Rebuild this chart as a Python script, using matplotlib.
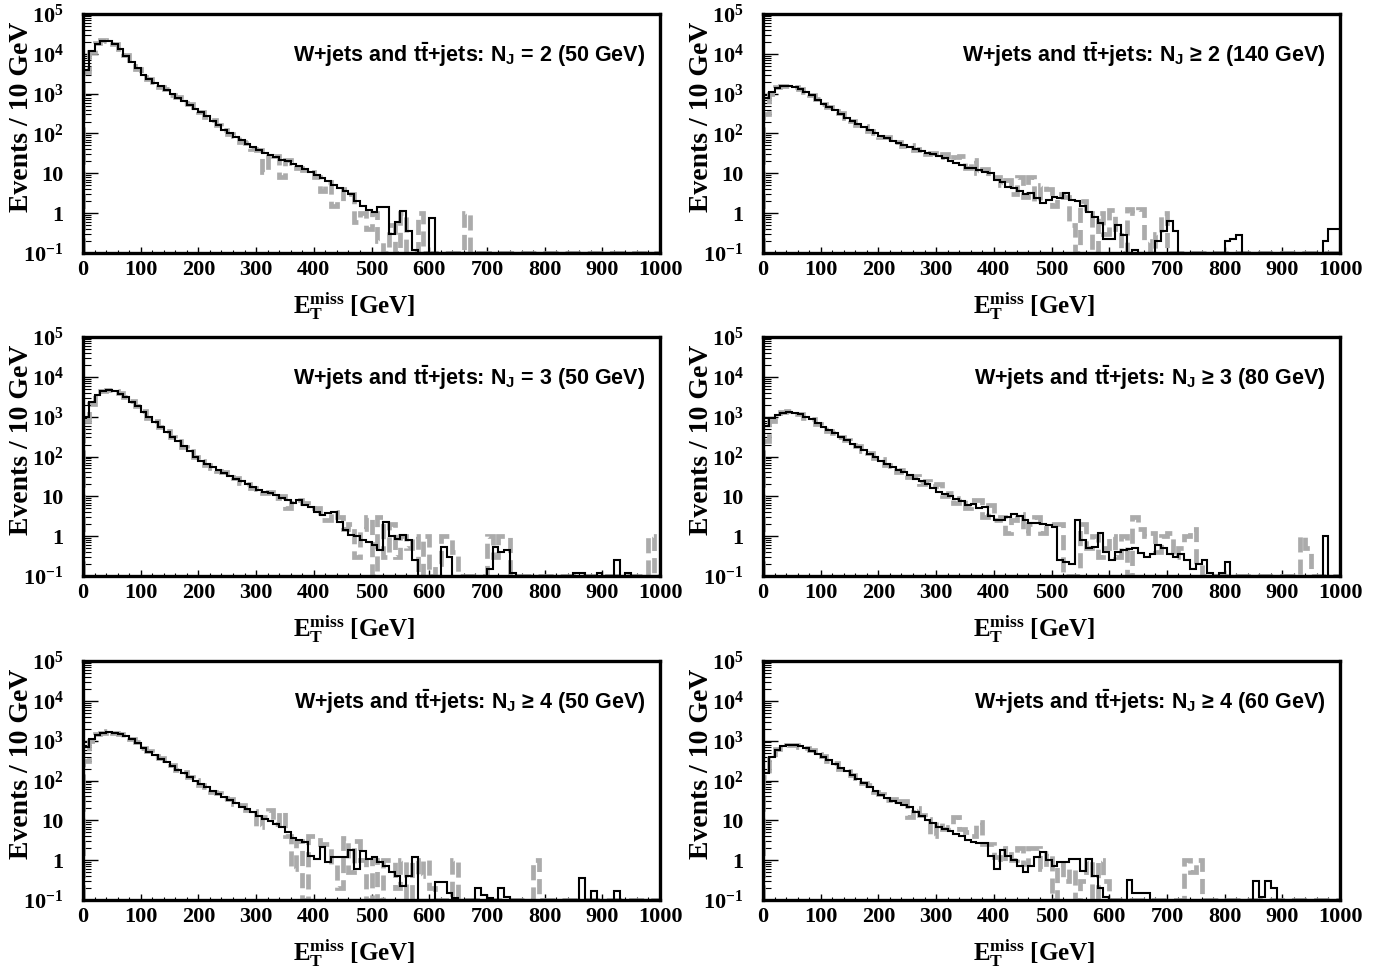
import numpy as np
import matplotlib
matplotlib.use("Agg")
import matplotlib.pyplot as plt
from matplotlib.ticker import FixedLocator, MultipleLocator, FuncFormatter

plt.rcParams['mathtext.fontset'] = 'custom'
plt.rcParams['mathtext.rm'] = 'Liberation Serif:bold'
plt.rcParams['mathtext.it'] = 'Liberation Serif:bold'
plt.rcParams['mathtext.bf'] = 'Liberation Sans:bold'

# 10 GeV bins from 0 to 1000 GeV, events per bin (0 = empty bin)
bin_edges = np.arange(0, 1010, 10)

solid_nj2_50 = [
    4000, 12000, 18000, 21000, 21000, 18000, 13000, 9000, 6200, 4300,
    3000, 2400, 1900, 1550, 1250, 1000, 800, 640, 520, 420,
    340, 270, 210, 165, 125, 100, 82, 68, 56, 46,
    38, 33, 29, 25, 22, 20, 17, 15, 13, 11,
    9, 7.5, 6.5, 5, 4.2, 3.5, 3, 2, 1.5, 1.2,
    1.05, 1.4, 1.4, 0.3, 0.6, 1.15, 0.35, 0.12, 0, 0,
    0.75, 0, 0, 0, 0, 0, 0, 0, 0, 0,
    0, 0, 0, 0, 0, 0, 0, 0, 0, 0,
    0, 0, 0, 0, 0, 0, 0, 0, 0, 0,
    0, 0, 0, 0, 0, 0, 0, 0, 0, 0,
]
dashed_nj2_50 = [
    3500, 11000, 19000, 22000, 21000, 17500, 13500, 9500, 6000, 4200,
    3100, 2300, 1950, 1500, 1300, 950, 820, 600, 540, 400,
    350, 260, 215, 160, 120, 95, 85, 60, 58, 40,
    38, 11, 30, 27, 8, 22, 18, 14, 12, 11,
    8, 3.5, 6, 1.5, 2, 4, 3, 0.6, 1, 0.4,
    1, 0.2, 0, 0.5, 0, 1, 0, 0, 1, 0,
    0, 0, 0, 0, 0, 0, 1, 0, 0, 0,
    0, 0, 0, 0, 0, 0, 0, 0, 0, 0,
    0, 0, 0, 0, 0, 0, 0, 0, 0, 0,
    0, 0, 0, 0, 0, 0, 0, 0, 0, 0,
]

solid_nj2_140 = [
    800, 1100, 1400, 1550, 1600, 1500, 1300, 1100, 900, 700,
    560, 460, 380, 310, 250, 205, 170, 145, 120, 100,
    85, 75, 66, 58, 51, 45, 41, 37, 33, 30,
    27, 24, 20, 18, 16, 14, 14, 12, 11, 10,
    7, 6, 4.5, 4.2, 3.5, 3, 3.2, 2.4, 1.8, 2.2,
    2.6, 2.4, 3.3, 2.2, 2.0, 1.5, 1.1, 0.8, 0.58, 0.23,
    0.23, 0.5, 0.28, 0.1, 0.12, 0, 0, 0, 0.2, 0.35,
    0.65, 0.35, 0, 0, 0, 0, 0, 0, 0, 0,
    0.2, 0.22, 0.28, 0, 0, 0, 0, 0, 0, 0,
    0, 0, 0, 0, 0, 0, 0, 0.2, 0.4, 0.4,
]
dashed_nj2_140 = [
    300, 1000, 1450, 1600, 1550, 1450, 1300, 1100, 950, 720,
    560, 470, 370, 320, 240, 210, 165, 150, 115, 105,
    80, 80, 62, 62, 48, 52, 38, 40, 30, 32,
    25, 30, 22, 25, 28, 14, 22, 10, 13, 8,
    8, 5, 7, 3, 8, 2.5, 8, 2, 5, 4,
    1.5, 3, 2.5, 0.5, 0, 2, 1, 0, 1, 0.3,
    1.2, 0.4, 0, 1.3, 1, 1.3, 0.2, 0, 0.3, 1,
    0, 0, 0, 0, 0, 0, 0, 0, 0, 0,
    0, 0, 0, 0, 0, 0, 0, 0, 0, 0,
    0, 0, 0, 0, 0, 0, 0, 0, 0, 0,
]

solid_nj3_50 = [
    1000, 2300, 3500, 4300, 4600, 4400, 3800, 3100, 2400, 1800,
    1300, 980, 740, 560, 420, 315, 240, 180, 135, 100,
    76, 64, 55, 46, 39, 33, 28, 24, 20, 17,
    14.7, 13, 12, 10.5, 9, 8, 7, 8, 6, 5.5,
    4.1, 3.4, 3.8, 4.0, 2.3, 1.4, 1.05, 1.0, 0.8, 0.7,
    0.6, 0.45, 2.3, 1.0, 0.85, 1.05, 0.8, 0.25, 0.1, 0,
    0, 0, 0.55, 0.3, 0, 0, 0, 0, 0, 0,
    0.15, 0.55, 0.4, 0.45, 0.12, 0, 0, 0, 0, 0,
    0, 0, 0, 0, 0, 0.12, 0.12, 0, 0, 0.12,
    0, 0, 0.25, 0, 0.12, 0, 0, 0, 0, 0,
]
dashed_nj3_50 = [
    800, 2100, 3600, 4400, 4700, 4400, 3900, 3200, 2500, 1800,
    1350, 950, 760, 540, 430, 300, 250, 175, 140, 95,
    78, 60, 52, 44, 40, 30, 29, 22, 20, 16,
    15, 12, 13, 9, 10, 5, 8, 8, 7, 6,
    5, 2.5, 2.5, 4, 3, 1.5, 2, 0.3, 1.5, 3,
    0.1, 3, 0.3, 2, 0.3, 1, 0.5, 1, 0, 1,
    0, 0.2, 1, 1, 0.4, 0, 0, 0, 0, 0,
    1, 0.3, 1, 1, 0, 0, 0, 0, 0, 0,
    0, 0, 0, 0, 0, 0, 0, 0, 0, 0,
    0, 0, 0, 0, 0, 0, 0, 0, 1, 0,
]

solid_nj3_80 = [
    600, 900, 1100, 1250, 1300, 1250, 1150, 1000, 850, 700,
    560, 460, 380, 310, 255, 210, 172, 142, 117, 96,
    79, 66, 56, 47, 40, 34, 28, 24, 20, 16,
    13, 11.5, 10, 8.5, 7.5, 6, 6.5, 5, 5.5, 3.3,
    2.5, 2.5, 3, 3.6, 3.2, 2.5, 2.2, 2.2, 2.0, 1.9,
    1.7, 0.25, 0.22, 0.2, 2.5, 0.8, 0.5, 0.55, 1.2, 0.4,
    0.25, 0.4, 0.45, 0.48, 0.5, 0.38, 0.3, 0.35, 0.6, 0.5,
    0.35, 0.3, 0.35, 0.25, 0.15, 0.2, 0.25, 0.12, 0.1, 0.12,
    0.22, 0.1, 0, 0, 0, 0, 0, 0, 0, 0,
    0, 0, 0, 0, 0, 0, 0, 1.0, 0, 0,
]
dashed_nj3_80 = [
    250, 800, 1050, 1300, 1350, 1200, 1150, 950, 880, 650,
    570, 440, 390, 300, 260, 200, 180, 135, 120, 90,
    85, 60, 58, 42, 45, 30, 32, 20, 24, 18,
    20, 10, 12, 7, 9, 5, 8, 8, 3, 6,
    2.5, 3, 1.2, 2.5, 3.5, 1.2, 2, 3, 1.2, 2,
    2, 2, 0.1, 0.1, 0, 2, 0.5, 1, 0.3, 0.5,
    1, 0.3, 1, 0, 3, 1.5, 1, 1.2, 0.4, 1,
    1.2, 0.3, 0.5, 1, 1.5, 0.2, 0, 0, 0, 0,
    0, 0, 0, 0, 0, 0, 0, 0, 0, 0,
    0, 0, 0, 1, 0.5, 0, 0, 0, 0, 0,
]

solid_nj4_50 = [
    700, 1100, 1400, 1550, 1650, 1600, 1450, 1300, 1100, 850,
    650, 530, 430, 350, 285, 230, 188, 153, 125, 100,
    80, 67, 55, 46, 38, 32, 27, 22, 19, 16,
    13, 11, 9.5, 8, 7, 5.1, 3.7, 3.2, 2.9, 1.3,
    1.1, 2.2, 0.9, 1.2, 1.2, 1.2, 1.8, 0.6, 1.7, 1.1,
    1.2, 0.9, 0.7, 0.5, 0.4, 0.22, 0.4, 1.2, 0.1, 0.1,
    0.1, 0.28, 0.28, 0.15, 0.11, 0, 0, 0, 0.2, 0.13,
    0.11, 0, 0.2, 0.12, 0, 0, 0, 0, 0, 0,
    0, 0, 0, 0, 0, 0, 0.35, 0, 0.17, 0,
    0, 0, 0.17, 0, 0, 0, 0, 0, 0, 0,
]
dashed_nj4_50 = [
    300, 1000, 1450, 1600, 1700, 1550, 1500, 1250, 1100, 900,
    640, 540, 420, 360, 280, 240, 185, 160, 120, 105,
    78, 70, 52, 48, 36, 34, 25, 24, 18, 17,
    7, 12, 18, 8, 16, 4, 0.6, 3, 0.1, 4,
    4, 2.5, 2.5, 0.8, 0.2, 3.5, 0.5, 3, 1, 0.1,
    1, 0.1, 1, 1, 0.2, 1, 0.1, 1, 0.4, 1,
    0.2, 0, 0, 0, 1, 0, 0, 0, 0, 0,
    0, 0, 0, 0, 0, 0, 0, 0, 1, 0,
    0, 0, 0, 0, 0, 0, 0, 0, 0, 0,
    0, 0, 0, 0, 0, 0, 0, 0, 0, 0,
]

solid_nj4_60 = [
    150, 400, 600, 720, 780, 760, 720, 650, 560, 470,
    400, 320, 260, 210, 170, 140, 110, 88, 70, 55,
    44, 36, 31, 27, 24, 21, 16, 13, 10, 8.5,
    7, 6, 5.5, 4.5, 4, 3.2, 2.8, 2.7, 2.7, 1.3,
    0.6, 1.8, 1.3, 1.0, 0.7, 0.5, 0.7, 1.2, 1.6, 1.0,
    0.7, 0.9, 0.9, 1.1, 1.1, 0.55, 1.1, 0.4, 0.2, 0.12,
    0.1, 0.1, 0.1, 0.32, 0.15, 0.15, 0.15, 0.1, 0, 0,
    0, 0, 0, 0, 0, 0, 0, 0, 0, 0,
    0, 0, 0, 0, 0, 0.3, 0.12, 0.3, 0.2, 0,
    0, 0, 0, 0, 0, 0, 0, 0, 0, 0,
]
dashed_nj4_60 = [
    120, 350, 620, 750, 800, 780, 700, 640, 580, 450,
    410, 300, 270, 200, 175, 135, 115, 85, 75, 52,
    46, 33, 34, 26, 30, 12, 20, 14, 11, 4,
    9, 6, 7, 12, 6, 5, 4, 9, 2.5, 2.5,
    1.2, 0.9, 2, 1, 2, 0.8, 2, 2, 0.6, 1.5,
    0.1, 0.8, 0.3, 0.6, 0.1, 0.3, 1, 0.1, 1, 0.3,
    0, 0, 0, 0, 0, 0, 0, 0, 0, 0,
    0, 0, 0, 1, 0.5, 1, 0, 0, 0, 0,
    0, 0, 0, 0, 0, 0, 0, 0, 0, 0,
    0, 0, 0, 0, 0, 0, 0, 0, 0, 0,
]

panel_labels = [
    r'W+jets and $\mathbf{t\bar{t}}$+jets: N$_{\mathbf{J}}$ = 2 (50 GeV)',
    r'W+jets and $\mathbf{t\bar{t}}$+jets: N$_{\mathbf{J}}$ ≥ 2 (140 GeV)',
    r'W+jets and $\mathbf{t\bar{t}}$+jets: N$_{\mathbf{J}}$ = 3 (50 GeV)',
    r'W+jets and $\mathbf{t\bar{t}}$+jets: N$_{\mathbf{J}}$ ≥ 3 (80 GeV)',
    r'W+jets and $\mathbf{t\bar{t}}$+jets: N$_{\mathbf{J}}$ ≥ 4 (50 GeV)',
    r'W+jets and $\mathbf{t\bar{t}}$+jets: N$_{\mathbf{J}}$ ≥ 4 (60 GeV)',
]
solid_series = [solid_nj2_50, solid_nj2_140, solid_nj3_50,
                solid_nj3_80, solid_nj4_50, solid_nj4_60]
dashed_series = [dashed_nj2_50, dashed_nj2_140, dashed_nj3_50,
                 dashed_nj3_80, dashed_nj4_50, dashed_nj4_60]

ytick_vals = [0.1, 1, 10, 100, 1000, 1e4, 1e5]
ytick_text = [r'$\mathrm{10}^{\mathrm{-1}}$', '1', '10', r'$\mathrm{10}^{\mathrm{2}}$',
              r'$\mathrm{10}^{\mathrm{3}}$', r'$\mathrm{10}^{\mathrm{4}}$',
              r'$\mathrm{10}^{\mathrm{5}}$']

fig = plt.figure(figsize=(13.85, 9.67), dpi=100)

W, H = 1385.0, 967.0
col_left = [83, 763]
row_top = [14, 337, 661]
ax_w, ax_h = 577, 239

serif = 'Liberation Serif'

minor_y = [m * 10.0 ** e for e in range(-1, 5) for m in range(2, 10)]

for i in range(6):
    r, c = divmod(i, 2)
    x0 = col_left[c] / W
    y0 = 1 - (row_top[r] + ax_h) / H
    ax = fig.add_axes([x0, y0, ax_w / W, ax_h / H])
    ax.set_yscale('log')
    ax.set_xlim(0, 1000)
    ax.set_ylim(0.1, 1e5)

    dashed = np.clip(np.array(dashed_series[i], dtype=float), 0.1, None)
    solid = np.clip(np.array(solid_series[i], dtype=float), 0.1, None)
    ax.stairs(dashed, bin_edges, baseline=0.1, color='#ababab', lw=3.4,
              linestyle=(0, (3.2, 1.5)), zorder=2)
    ax.stairs(solid, bin_edges, baseline=0.1, color='black', lw=1.5, zorder=3)

    for s in ax.spines.values():
        s.set_linewidth(2.4)

    ax.yaxis.set_major_locator(FixedLocator(ytick_vals))
    ax.yaxis.set_major_formatter(FuncFormatter(lambda v, p: ytick_text[p] if p is not None and p < len(ytick_text) else ''))
    ax.yaxis.set_minor_locator(FixedLocator(minor_y))
    ax.yaxis.set_minor_formatter(FuncFormatter(lambda v, p: ''))
    ax.xaxis.set_major_locator(MultipleLocator(100))
    ax.xaxis.set_minor_locator(MultipleLocator(20))

    ax.tick_params(axis='y', which='major', direction='in', length=11, width=1.0,
                   left=True, right=False, pad=14)
    ax.tick_params(axis='y', which='minor', direction='in', length=5.5, width=0.8,
                   left=True, right=False)
    ax.tick_params(axis='x', which='major', direction='in', length=4, width=1.0,
                   bottom=True, top=False, pad=5)
    ax.tick_params(axis='x', which='minor', direction='in', length=2.5, width=0.8,
                   bottom=True, top=False)
    for lab in ax.get_xticklabels() + ax.get_yticklabels():
        lab.set_fontfamily(serif)
        lab.set_fontweight('bold')
        lab.set_fontsize(16)

    ax.text(0.975, 0.83, panel_labels[i], transform=ax.transAxes, ha='right',
            va='center', fontfamily='Liberation Sans', fontweight='bold', fontsize=15.5)

    ax.text(-0.107, 0.57, 'Events / 10 GeV', transform=ax.transAxes, rotation=90,
            ha='center', va='center', fontfamily=serif, fontweight='bold', fontsize=20)
    ax.text(0.47, -0.155, r'$\mathrm{E}_{\mathrm{T}}^{\mathrm{miss}}$ [GeV]',
            transform=ax.transAxes, ha='center', va='top', fontfamily=serif,
            fontweight='bold', fontsize=18)

fig.savefig('out.png', dpi=100)
